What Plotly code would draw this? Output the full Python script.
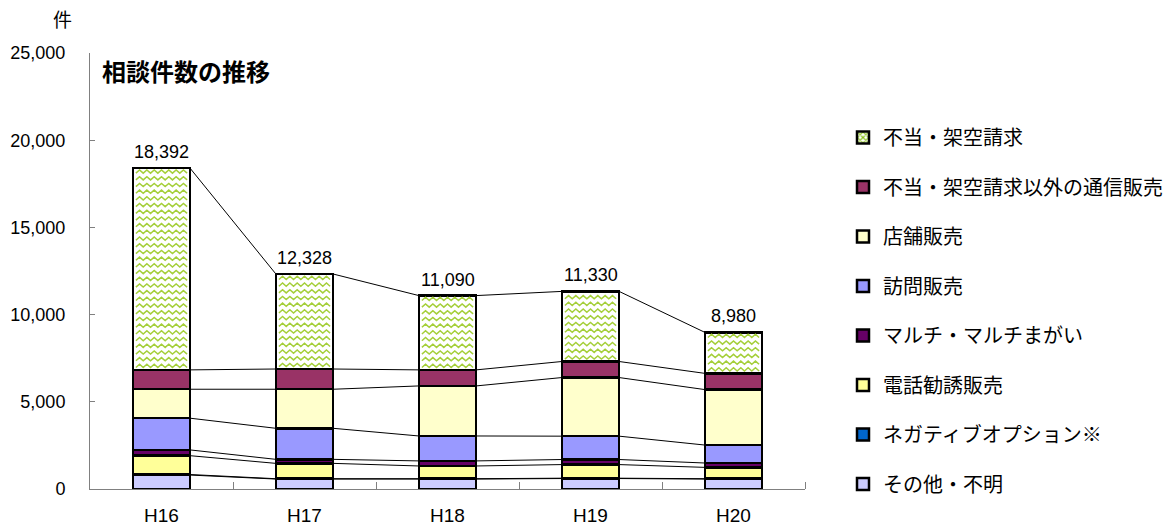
import plotly.graph_objects as go

categories = ["H16", "H17", "H18", "H19", "H20"]
totals = [18392, 12328, 11090, 11330, 8980]

sonota = [800, 570, 570, 600, 570]
negative = [30, 20, 20, 20, 20]
denwa = [1080, 880, 730, 780, 650]
maruchi = [330, 230, 290, 290, 250]
houmon = [1820, 1780, 1430, 1340, 1030]
tenpo = [1660, 2240, 2870, 3360, 3180]
tsushin = [1110, 1160, 920, 920, 930]
futou = [11562, 5448, 4260, 4020, 2350]

series = [
    ("その他・不明", sonota, "#CCCCFF"),
    ("ネガティブオプション※", negative, "#0066CC"),
    ("電話勧誘販売", denwa, "#FFFF99"),
    ("マルチ・マルチまがい", maruchi, "#660066"),
    ("訪問販売", houmon, "#9999FF"),
    ("店舗販売", tenpo, "#FFFFCC"),
    ("不当・架空請求以外の通信販売", tsushin, "#993366"),
    ("不当・架空請求", futou, "#FFFFFF"),
]

JP = "Noto Sans CJK JP"
NUM = "Liberation Sans"
BAR_W = 0.4
xs = list(range(len(categories)))

fig = go.Figure()
n = len(series)
for k, (name, vals, col) in enumerate(series):
    is_futou = name == "不当・架空請求"
    fig.add_trace(go.Bar(
        x=xs, y=vals, name=name, width=BAR_W,
        marker=dict(color=col, line=dict(color="black", width=2.5)),
        showlegend=not is_futou, legendrank=n - k, legendgroup=name,
        hoverinfo="skip",
    ))

# legend-only entry for the patterned series (placed outside the visible x range)
fig.add_trace(go.Bar(
    x=[-10], y=[1], name="不当・架空請求", width=BAR_W,
    marker=dict(color="white", line=dict(color="black", width=2.5),
                pattern=dict(shape="x", fgcolor="#8DC21F", bgcolor="white",
                             size=5, solidity=0.5, fillmode="replace")),
    legendrank=0, legendgroup="futou_legend", hoverinfo="skip",
))

# cumulative boundaries and series connector lines
cums = []
running = [0] * len(xs)
for name, vals, col in series:
    running = [a + b for a, b in zip(running, vals)]
    cums.append(list(running))

lx, ly = [], []
for cum in cums:
    for i in range(len(xs) - 1):
        lx += [xs[i] + BAR_W / 2, xs[i + 1] - BAR_W / 2, None]
        ly += [cum[i], cum[i + 1], None]
fig.add_trace(go.Scatter(x=lx, y=ly, mode="lines", line=dict(color="black", width=1),
                         showlegend=False, hoverinfo="skip"))

# zigzag pattern inside 不当・架空請求 segments
shapes = []
y_per_px = 25000 / 436
x_per_px = 1 / 143.0
row_gap = 6.7 * y_per_px
amp = 1.6 * y_per_px
for i in xs:
    lo = cums[-2][i]
    hi = cums[-1][i]
    x_left = xs[i] - BAR_W / 2 + 3 * x_per_px
    x_right = xs[i] + BAR_W / 2 - 3 * x_per_px
    nseg = 14
    path = ""
    y = lo + 4 * y_per_px
    while y < hi - 3 * y_per_px:
        pts = []
        for s in range(nseg + 1):
            px = x_left + (x_right - x_left) * s / nseg
            py = y + (amp if s % 2 else -amp)
            pts.append(f"{px:.4f},{py:.1f}")
        path += "M" + " L".join(pts) + " "
        y += row_gap
    shapes.append(dict(type="path", path=path, xref="x", yref="y",
                       line=dict(color="#A5CF3A", width=1.5), layer="above"))

annotations = []
for i, t in enumerate(totals):
    annotations.append(dict(x=xs[i], y=t, text=f"{t:,}", showarrow=False,
                            yanchor="bottom", yshift=4,
                            font=dict(family=NUM, size=18, color="black")))
annotations.append(dict(x=(100 - 90) / 715, y=(489 - 70) / 436, xref="paper", yref="paper",
                        text="<b>相談件数の推移</b>",
                        showarrow=False, xanchor="left", yanchor="middle",
                        font=dict(family=JP, size=24, color="black")))
annotations.append(dict(x=(62 - 90) / 715, y=(489 - 19) / 436, xref="paper", yref="paper",
                        text="件", showarrow=False, xanchor="center", yanchor="middle",
                        font=dict(family=JP, size=19, color="black")))

fig.update_layout(
    width=1171, height=530,
    margin=dict(l=90, r=366, t=53, b=41, autoexpand=False),
    barmode="stack", bargap=0.6,
    paper_bgcolor="white", plot_bgcolor="white",
    shapes=shapes, annotations=annotations,
    legend=dict(x=(843 - 90) / 715, y=(489 - 118) / 436, xanchor="left", yanchor="top",
                traceorder="grouped", tracegroupgap=20.5,
                font=dict(family=JP, size=20, color="black"), bgcolor="rgba(0,0,0,0)"),
    xaxis=dict(range=[-0.5, 4.5], tickvals=xs, ticktext=categories, ticks="",
               showline=True, linecolor="#808080", linewidth=1, showgrid=False, zeroline=False,
               automargin=False,
               tickfont=dict(family=NUM, size=19, color="black"), ticklabelstandoff=9,
               minor=dict(tickvals=[i + 0.5 for i in xs], ticks="inside", ticklen=7,
                          tickcolor="#808080", showgrid=False)),
    yaxis=dict(range=[0, 25000], tickvals=[0, 5000, 10000, 15000, 20000, 25000],
               ticktext=["0", "5,000", "10,000", "15,000", "20,000", "25,000"],
               ticks="inside", ticklen=5, tickcolor="#808080", automargin=False,
               showline=True, linecolor="#808080", linewidth=1, showgrid=False, zeroline=False,
               tickfont=dict(family=NUM, size=18, color="black"), ticklabelstandoff=20),
)

fig.write_html("out.html")
